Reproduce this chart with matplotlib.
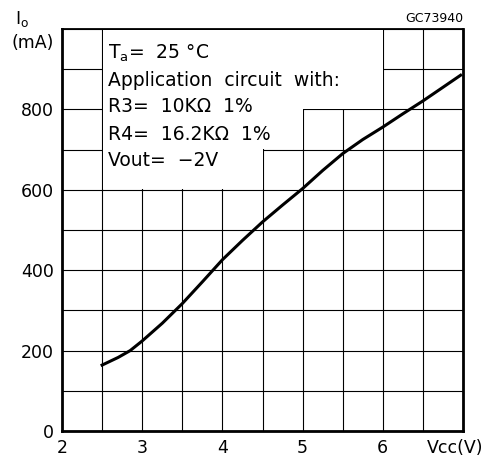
import matplotlib
matplotlib.use('Agg')
import matplotlib.pyplot as plt
import numpy as np

# Io vs Vcc curve
vcc = [2.5, 2.7, 2.85, 3.0, 3.25, 3.5, 3.75, 4.0, 4.25, 4.5, 4.75,
       5.0, 5.25, 5.5, 5.75, 6.0, 6.25, 6.5, 6.75, 6.97]
io = [164, 183, 200, 224, 268, 317, 371, 426, 474, 520, 562,
      603, 648, 690, 725, 756, 789, 821, 855, 885]

x_ticks = [2, 3, 4, 5, 6]
y_ticks = [0, 200, 400, 600, 800]

# area of the grid blanked out behind the conditions text
blank_x = [2.51, 4.5, 4.5, 5.0, 5.0, 6.0, 6.0, 2.51]
blank_y = [602, 602, 702, 702, 802, 802, 998, 998]

fig = plt.figure(figsize=(4.85, 4.61), dpi=100)
ax = fig.add_axes([62 / 485, 1 - 431 / 461, 401 / 485, 402 / 461])

ax.set_xlim(2, 7)
ax.set_ylim(0, 1000)
ax.set_xticks(np.arange(2, 7.01, 0.5), minor=True)
ax.set_yticks(np.arange(0, 1001, 100), minor=True)
ax.set_xticks(x_ticks)
ax.set_yticks(y_ticks)
ax.grid(which='both', color='black', linewidth=0.8)
ax.set_axisbelow(True)
ax.tick_params(which='both', length=0, labelsize=12.5, pad=6)

ax.fill(blank_x, blank_y, color='white', linewidth=0, zorder=1.5)
ax.plot(vcc, io, color='black', linewidth=2.2, zorder=3)

for side in ['left', 'bottom', 'right']:
    ax.spines[side].set_linewidth(2)
ax.spines['top'].set_linewidth(1.3)

lines = [r'T$_\mathregular{a}$=  25 $\degree$C',
         'Application  circuit  with:',
         'R3=  10K\u03a9  1%',
         'R4=  16.2K\u03a9  1%',
         'Vout=  \u22122V']
for i, s in enumerate(lines):
    fig.text(108 / 485, 1 - (53 + 27 * i) / 461, s, fontsize=13.5,
             ha='left', va='center')

fig.text(463 / 485, 1 - 18 / 461, 'GC73940', fontsize=9, ha='right', va='center')
fig.text(22 / 485, 1 - 19 / 461, r'I$_\mathregular{o}$', fontsize=12.5, ha='center', va='center')
fig.text(33 / 485, 1 - 43 / 461, '(mA)', fontsize=12.5, ha='center', va='center')
fig.text(483 / 485, 1 - 448 / 461, 'Vcc(V)', fontsize=12.5, ha='right', va='center')

fig.savefig('out.png', dpi=100)
